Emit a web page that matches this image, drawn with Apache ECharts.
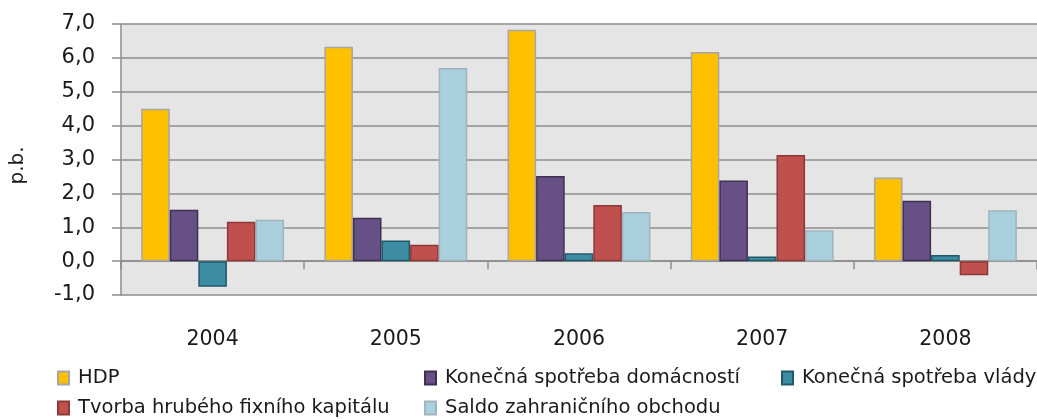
<!DOCTYPE html>
<html>
<head>
<meta charset="utf-8">
<script src="https://cdn.jsdelivr.net/npm/echarts@6/dist/echarts.min.js"></script>
<style>
  html, body { margin: 0; padding: 0; background: #fff; }
  #chart { width: 1037px; height: 419px; }
</style>
</head>
<body>
<div id="chart"></div>
<script>
// roky
const years = ['2004', '2005', '2006', '2007', '2008']
// příspěvky k růstu HDP (p.b.)
const hdp = [4.5, 6.33, 6.83, 6.17, 2.47]
const spotrebaDomacnosti = [1.52, 1.28, 2.51, 2.38, 1.78]
const spotrebaVlady = [-0.76, 0.61, 0.23, 0.14, 0.18]
const tvorbaKapitalu = [1.16, 0.48, 1.66, 3.13, -0.42]
const saldoObchodu = [1.22, 5.7, 1.45, 0.91, 1.5]
// popisky osy y
const yTicks = [-1, 0, 1, 2, 3, 4, 5, 6, 7]

const font = 'DejaVu Sans'

const seriesDefs = [
  { name: 'HDP', data: hdp, color: '#ffc000', border: '#a6a6a6' },
  { name: 'Konečná spotřeba domácností', data: spotrebaDomacnosti, color: '#675086', border: '#3f3151' },
  { name: 'Konečná spotřeba vlády', data: spotrebaVlady, color: '#3c8ca4', border: '#215968' },
  { name: 'Tvorba hrubého fixního kapitálu', data: tvorbaKapitalu, color: '#c0504d', border: '#8c3836' },
  { name: 'Saldo zahraničního obchodu', data: saldoObchodu, color: '#aacfdd', border: '#9fb4bc' }
]

// pozice legendy (dva řádky jako v originálu)
const legendPos = [
  { left: 57, top: 368 },
  { left: 424, top: 368 },
  { left: 781, top: 368 },
  { left: 57, top: 398 },
  { left: 424, top: 398 }
]

const option = {
  animation: false,
  grid: {
    left: 119,
    right: 0,
    top: 24,
    bottom: 124,
    show: true,
    backgroundColor: '#e5e5e5',
    borderWidth: 0
  },
  legend: seriesDefs.map((s, i) => ({
    data: [{ name: s.name, icon: 'rect' }],
    left: legendPos[i].left,
    top: legendPos[i].top,
    itemWidth: 11,
    itemHeight: 13,
    itemGap: 0,
    padding: 0,
    selectedMode: false,
    textStyle: { fontFamily: font, fontSize: 19.5, color: '#1a1a1a', padding: [0, 0, 0, 4] }
  })),
  xAxis: [
    {
      type: 'category',
      data: years,
      position: 'bottom',
      axisLine: { show: false, onZero: false },
      axisTick: { show: false },
      axisLabel: { fontFamily: font, fontSize: 20.5, color: '#1a1a1a', margin: 34 }
    },
    {
      type: 'category',
      data: years,
      position: 'bottom',
      axisLine: { show: true, onZero: true, lineStyle: { color: '#8c8c8c', width: 1.5 } },
      axisTick: { show: true, length: 8, lineStyle: { color: '#8c8c8c', width: 1.5 } },
      axisLabel: { show: false }
    }
  ],
  yAxis: {
    type: 'value',
    min: yTicks[0],
    max: yTicks[yTicks.length - 1],
    interval: 1,
    name: 'p.b.',
    nameLocation: 'middle',
    nameRotate: 90,
    nameGap: 93,
    nameTextStyle: { fontFamily: font, fontSize: 20, color: '#1a1a1a', padding: [0, 12, 0, 0] },
    axisLine: { show: true, lineStyle: { color: '#8c8c8c', width: 1.5 } },
    axisTick: { show: true, length: 9, lineStyle: { color: '#8c8c8c', width: 1.5 } },
    axisLabel: {
      fontFamily: font,
      fontSize: 21,
      color: '#1a1a1a',
      margin: 26,
      formatter: (v) => v.toFixed(1).replace('.', ',')
    },
    splitLine: { show: true, lineStyle: { color: '#8c8c8c', width: 1.5 } }
  },
  series: seriesDefs.map((s) => ({
    name: s.name,
    type: 'bar',
    xAxisIndex: 0,
    data: s.data,
    barGap: 0,
    barCategoryGap: '22%',
    itemStyle: { color: s.color, borderColor: s.border, borderWidth: 1.5 }
  }))
}

const chart = echarts.init(document.getElementById('chart'))
chart.setOption(option)
</script>
</body>
</html>
